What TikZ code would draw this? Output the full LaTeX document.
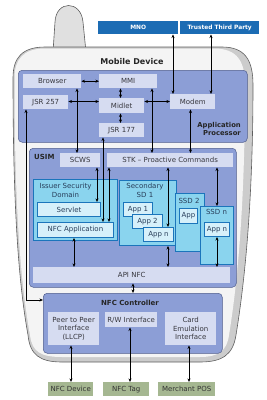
\documentclass[tikz,border=0pt]{standalone}
\usepackage{fontspec}
\setmainfont{DejaVu Sans}
\usetikzlibrary{arrows.meta}
\definecolor{midblue}{RGB}{140,158,214}
\definecolor{midborder}{RGB}{78,92,140}
\definecolor{lightbox}{RGB}{214,220,241}
\definecolor{cyanfill}{RGB}{138,212,238}
\definecolor{cyanline}{RGB}{27,117,187}
\definecolor{palecyan}{RGB}{214,240,250}
\definecolor{mnoblue}{RGB}{28,108,180}
\definecolor{greenbox}{RGB}{165,183,145}
\definecolor{txt}{RGB}{55,55,62}
\definecolor{cyantxt}{RGB}{40,62,90}
\definecolor{phoneline}{RGB}{95,95,95}
\definecolor{phonerim}{RGB}{204,204,204}
\definecolor{phoneface}{RGB}{244,244,244}
\newcommand{\fs}{\fontsize{7}{8.5}\selectfont}
\newcommand{\fsb}{\fontsize{7}{8.5}\selectfont\bfseries}
\tikzset{
  base/.style={anchor=north west, inner sep=0pt, font=\fs, text=txt, align=center},
  lbox/.style={base, fill=lightbox},
  big/.style={base, fill=midblue, draw=midborder, line width=0.5pt, rounded corners=4pt},
  cbox/.style={base, fill=cyanfill, draw=cyanline, line width=0.9pt, text=cyantxt},
  ibox/.style={base, fill=palecyan, draw=cyanline, line width=0.9pt, text=cyantxt},
  extbox/.style={base, fill=mnoblue, text=white, font=\fontsize{5.9}{7}\selectfont\bfseries},
  gbox/.style={base, fill=greenbox, text=black!80},
  title/.style={inner sep=0pt, font=\fsb, text=black!85},
  dar/.style={{Stealth[length=3.6pt,width=3pt]}-{Stealth[length=3.6pt,width=3pt]}, line width=0.55pt, black}
}
\begin{document}
\begin{tikzpicture}[x=1pt,y=-1pt]
\useasboundingbox (0,0) rectangle (267,400);
% phone
\draw[phoneline, fill=phonerim!60, line width=0.6pt] (53,52) -- (55,22) .. controls (56,0) and (81,0) .. (83,22) -- (86,52);
\draw[phoneline, fill=phonerim, line width=0.6pt] (13,78) .. controls (13,58) and (22,47) .. (45,47) -- (222,47)
  .. controls (245,47) and (253,60) .. (253,85) .. controls (253,200) and (245,280) .. (236,335)
  .. controls (233,355) and (222,362) .. (200,362) -- (62,362) .. controls (40,362) and (30,355) .. (28,335)
  .. controls (18,280) and (13,200) .. (13,78) -- cycle;
\fill[phoneface] (14.5,78) .. controls (14.5,60) and (23,48.5) .. (45,48.5) -- (214,48.5)
  .. controls (237,48.5) and (245,61) .. (245,85) .. controls (245,200) and (238,280) .. (229,335)
  .. controls (227,351) and (218,357) .. (200,357) -- (62,357) .. controls (41,357) and (32,352) .. (30,335)
  .. controls (20,280) and (14.5,200) .. (14.5,78) -- cycle;
\node[title, font=\fontsize{8}{9}\selectfont\bfseries] (mobile) at (132,62) {Mobile Device};
% external
\node[extbox, minimum width=80, minimum height=13] (mno) at (98,21) {MNO};
\node[extbox, minimum width=79, minimum height=13] (ttp) at (180,21) {Trusted Third Party};
% application processor
\node[big, minimum width=229, minimum height=72] (ap) at (18,70) {};
\node[title, anchor=east, align=right, font=\fontsize{6.8}{8}\selectfont\bfseries] (aptxt) at (241,129) {Application\\Processor};
\node[lbox, minimum width=58, minimum height=14] (browser) at (23,74) {Browser};
\node[lbox, minimum width=58, minimum height=14] (mmi) at (99,74) {MMI};
\node[lbox, minimum width=45, minimum height=14] (jsr257) at (23,95) {JSR 257};
\node[lbox, minimum width=45, minimum height=15] (midlet) at (99,98) {Midlet};
\node[lbox, minimum width=45, minimum height=14] (jsr177) at (99,123) {JSR 177};
\node[lbox, minimum width=45, minimum height=15] (modem) at (170,94) {Modem};
% USIM
\node[big, minimum width=207, minimum height=139] (usim) at (29,148) {};
\node[title, anchor=west] (usimtxt) at (34,157) {USIM};
\node[lbox, minimum width=40, minimum height=14] (scws) at (60,153) {SCWS};
\node[lbox, minimum width=126, minimum height=14] (stk) at (107,153) {STK – Proactive Commands};
\node[cbox, minimum width=84, minimum height=61] (isd) at (33,179) {};
\node[title, font=\fs, text=cyantxt, align=center, anchor=north] (isdtxt) at (65.5,183) {Issuer Security\\Domain};
\node[ibox, minimum width=63, minimum height=14] (servlet) at (37,202) {Servlet};
\node[ibox, minimum width=76, minimum height=15] (nfcapp) at (37,222) {NFC Application};
\node[cbox, minimum width=57, minimum height=65] (sd1) at (119,180) {};
\node[title, font=\fs, text=cyantxt, align=center, anchor=north] (sd1txt) at (145,183) {Secondary\\SD 1};
\node[ibox, minimum width=29, minimum height=14] (app1) at (123,202) {App 1};
\node[ibox, minimum width=30, minimum height=14] (app2) at (132,214) {App 2};
\node[ibox, minimum width=30, minimum height=14] (appn1) at (143,227) {App n};
\node[cbox, minimum width=29, minimum height=58] (ssd2) at (175,193) {};
\node[title, font=\fs, text=cyantxt, anchor=north] (ssd2txt) at (189,198) {SSD 2};
\node[ibox, minimum width=18, minimum height=15] (appb) at (179,208) {App};
\node[cbox, minimum width=33, minimum height=58] (ssdn) at (200,206) {};
\node[title, font=\fs, text=cyantxt, anchor=north] (ssdntxt) at (216.5,209.5) {SSD n};
\node[ibox, minimum width=25, minimum height=14] (appnn) at (204,222) {App n};
\node[lbox, minimum width=197, minimum height=16] (apinfc) at (33,267) {API NFC};
% NFC controller
\node[big, minimum width=179, minimum height=60] (nfcc) at (43,293) {};
\node[title] (nfcctxt) at (130,303) {NFC Controller};
\node[lbox, minimum width=51, minimum height=33] (p2p) at (48,312) {Peer to Peer\\Interface\\(LLCP)};
\node[lbox, minimum width=52, minimum height=15] (rw) at (105,312) {R/W Interface};
\node[lbox, minimum width=51, minimum height=33] (card) at (165,312) {Card\\Emulation\\Interface};
% bottom
\node[gbox, minimum width=45, minimum height=14] (nfcdev) at (48,382) {NFC Device};
\node[gbox, minimum width=46, minimum height=14] (nfctag) at (103,382) {NFC Tag};
\node[gbox, minimum width=57, minimum height=14] (pos) at (158,382) {Merchant POS};
% column coordinates
\coordinate (c26) at (26,0);
\coordinate (c71) at (71,0);
\coordinate (c74) at (74,0);
\coordinate (c77) at (77,0);
\coordinate (c97) at (97,0);
\coordinate (c103) at (103,0);
\coordinate (c109) at (109,0);
\coordinate (c120) at (120.5,0);
\coordinate (c130) at (130,0);
\coordinate (c133) at (133,0);
\coordinate (c152) at (152,0);
\coordinate (c168) at (168,0);
\coordinate (c173) at (173,0);
\coordinate (c189) at (189,0);
\coordinate (c190) at (190.5,0);
\coordinate (c211) at (211,0);
\coordinate (c217) at (217,0);
\coordinate (r101) at (0,101.5);
\coordinate (r300) at (0,300);
% connectors
\draw[dar] (browser.east) -- (mmi.west);
\draw[dar] (c120 |- mmi.south) -- (c120 |- midlet.north);
\draw[dar] (c120 |- midlet.south) -- (c120 |- jsr177.north);
\draw[dar] (r101 -| jsr257.east) -- (r101 -| midlet.west);
\draw[dar] (r101 -| midlet.east) -- (r101 -| modem.west);
\draw[dar] (c173 |- mno.south) -- (c173 |- modem.north);
\draw[dar] (c211 |- ttp.south) -- (c211 |- modem.north);
\draw[dar] (c77 |- browser.south) -- (c77 |- scws.north);
\draw[dar] (c26 |- jsr257.south) -- (c26 |- r300) -- (r300 -| nfcc.west);
\draw[dar] (c152 |- mmi.south) -- (c152 |- stk.north);
\draw[dar] (c190 |- modem.south) -- (c190 |- stk.north);
\draw[dar] (c103 |- jsr177.south) -- (c103 |- nfcapp.north);
\draw[dar] (c109 |- stk.south) -- (c109 |- nfcapp.north);
\draw[dar] (c97 |- scws.south) -- (c97 |- servlet.north);
\draw[dar] (c168 |- stk.south) -- (c168 |- appn1.north);
\draw[dar] (c168 |- sd1.south) -- (c168 |- apinfc.north);
\draw[dar] (c217 |- stk.south) -- (c217 |- ssdn.north);
\draw[dar] (c217 |- appnn.south) -- (c217 |- apinfc.north);
\draw[dar] (c74 |- nfcapp.south) -- (c74 |- apinfc.north);
\draw[dar] (c133 |- apinfc.south) -- (c133 |- nfcc.north);
\draw[dar] (c71 |- p2p.south) -- (c71 |- nfcdev.north);
\draw[dar] (c130 |- rw.south) -- (c130 |- nfctag.north);
\draw[dar] (c189 |- card.south) -- (c189 |- pos.north);
\end{tikzpicture}
\end{document}
